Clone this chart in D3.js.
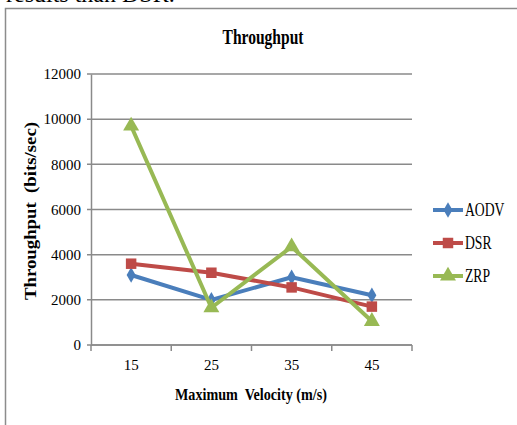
<!DOCTYPE html>
<html>
<head>
<meta charset="utf-8">
<script src="https://cdn.jsdelivr.net/npm/d3@7"></script>
<style>
  body { margin: 0; background: #fff; }
  svg { display: block; }
</style>
</head>
<body>
<div id="viz-container"></div>
<script>
let w = 517;
let h = 425;

// data
let velocities = ["15", "25", "35", "45"];
let aodv = [3100, 2000, 3000, 2200];
let dsr = [3600, 3200, 2550, 1700];
let zrp = [9700, 1650, 4350, 1050];
let yTicks = [0, 2000, 4000, 6000, 8000, 10000, 12000];
let seriesNames = ["AODV", "DSR", "ZRP"];

let colors = { AODV: "#4a7ebb", DSR: "#be4b48", ZRP: "#98b954" };
let symbols = { AODV: d3.symbolDiamond, DSR: d3.symbolSquare, ZRP: d3.symbolTriangle };
let symSize = { AODV: 70, DSR: 110, ZRP: 110 };

let series = [
  { name: "AODV", values: aodv },
  { name: "DSR", values: dsr },
  { name: "ZRP", values: zrp }
];

let serif = "'Liberation Serif', 'Times New Roman', serif";

let viz = d3.select("#viz-container")
  .append("svg")
  .attr("width", w)
  .attr("height", h);

// text cut off above the figure
viz.append("text")
  .attr("x", 6)
  .attr("y", 2)
  .attr("font-family", serif)
  .attr("font-size", 24)
  .attr("fill", "#000")
  .text("results than DSR.");

// figure frame
viz.append("path")
  .attr("d", "M5.5," + h + "V8.5H" + w)
  .attr("fill", "none")
  .attr("stroke", "#8c8c8c")
  .attr("stroke-width", 1.5);

let xScale = d3.scaleBand().domain(velocities).range([91, 412]).padding(0);
let yScale = d3.scaleLinear().domain([0, 12000]).range([345, 74]);

// gridlines
viz.append("g")
  .selectAll("line").data(yTicks).enter()
  .append("line")
  .attr("x1", 87)
  .attr("x2", 412)
  .attr("y1", d => yScale(d))
  .attr("y2", d => yScale(d))
  .attr("stroke", "#8a8a8a")
  .attr("stroke-width", 1.5);

// y axis
let yAxis = d3.axisLeft(yScale).tickValues(yTicks).tickSize(0).tickPadding(10).tickFormat(d3.format("d"));
let yAxisGroup = viz.append("g")
  .attr("transform", "translate(91,0)")
  .call(yAxis);
yAxisGroup.select(".domain").attr("stroke", "#8a8a8a").attr("stroke-width", 1.5);
yAxisGroup.selectAll("text")
  .attr("font-family", serif)
  .attr("font-size", 15)
  .attr("fill", "#000");

// x axis
let xAxis = d3.axisBottom(xScale).tickSize(0).tickPadding(14);
let xAxisGroup = viz.append("g")
  .attr("transform", "translate(0,345)")
  .call(xAxis);
xAxisGroup.select(".domain").remove();
xAxisGroup.append("line")
  .attr("x1", 91).attr("x2", 412)
  .attr("stroke", "#8a8a8a").attr("stroke-width", 1.5);
let bounds = velocities.map(d => xScale(d)).concat([xScale.range()[1]]);
xAxisGroup.selectAll(".bound").data(bounds).enter()
  .append("line")
  .attr("class", "bound")
  .attr("x1", d => d).attr("x2", d => d)
  .attr("y1", 0).attr("y2", 6)
  .attr("stroke", "#8a8a8a").attr("stroke-width", 1.5);
xAxisGroup.selectAll("text")
  .attr("font-family", serif)
  .attr("font-size", 15)
  .attr("fill", "#000");

// titles
viz.append("text")
  .attr("x", 263)
  .attr("y", 44)
  .attr("text-anchor", "middle")
  .attr("font-family", serif)
  .attr("font-weight", "bold")
  .attr("font-size", 20)
  .attr("textLength", 81)
  .attr("lengthAdjust", "spacingAndGlyphs")
  .text("Throughput");

viz.append("text")
  .attr("x", 251)
  .attr("y", 400)
  .attr("text-anchor", "middle")
  .attr("font-family", serif)
  .attr("font-weight", "bold")
  .attr("font-size", 16)
  .attr("textLength", 152)
  .attr("lengthAdjust", "spacingAndGlyphs")
  .attr("xml:space", "preserve")
  .text("Maximum  Velocity (m/s)");

viz.append("text")
  .attr("transform", "translate(36,211) rotate(-90)")
  .attr("text-anchor", "middle")
  .attr("font-family", serif)
  .attr("font-weight", "bold")
  .attr("font-size", 16)
  .attr("textLength", 178)
  .attr("lengthAdjust", "spacingAndGlyphs")
  .attr("xml:space", "preserve")
  .text("Throughput  (bits/sec)");

// lines and markers
let xCenter = d => xScale(d) + xScale.bandwidth() / 2;
let line = d3.line()
  .x((v, i) => xCenter(velocities[i]))
  .y(v => yScale(v));

let datagroup = viz.selectAll(".datagroup").data(series).enter()
  .append("g")
  .attr("class", "datagroup");

datagroup.append("path")
  .attr("d", d => line(d.values))
  .attr("fill", "none")
  .attr("stroke", d => colors[d.name])
  .attr("stroke-width", 4)
  .attr("stroke-linejoin", "round");

datagroup.each(function (s) {
  d3.select(this).selectAll(".mark").data(s.values).enter()
    .append("path")
    .attr("class", "mark")
    .attr("d", d3.symbol().type(symbols[s.name]).size(symSize[s.name]))
    .attr("transform", (v, i) => "translate(" + xCenter(velocities[i]) + "," + yScale(v) + ")")
    .attr("fill", colors[s.name]);
});

// legend
let legend = viz.selectAll(".legend").data(seriesNames).enter()
  .append("g")
  .attr("class", "legend")
  .attr("transform", (d, i) => "translate(433," + (210 + i * 33) + ")");
legend.append("line")
  .attr("x1", 0).attr("x2", 30)
  .attr("stroke", d => colors[d])
  .attr("stroke-width", 4);
legend.append("path")
  .attr("d", d => d3.symbol().type(symbols[d]).size(symSize[d])())
  .attr("transform", "translate(15,0)")
  .attr("fill", d => colors[d]);
legend.append("text")
  .attr("transform", "translate(32,0) scale(0.76,1)")
  .attr("dy", "0.35em")
  .attr("font-family", serif)
  .attr("font-size", 18)
  .attr("fill", "#000")
  .text(d => d);
</script>
</body>
</html>
